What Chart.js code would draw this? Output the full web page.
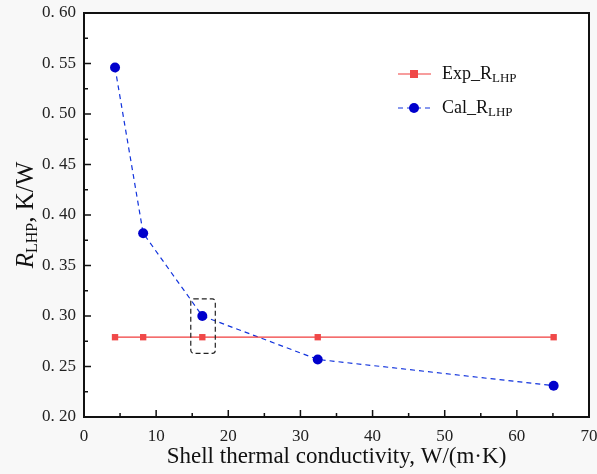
<!DOCTYPE html>
<html>
<head>
<meta charset="utf-8">
<script src="https://cdn.jsdelivr.net/npm/chart.js@4.4.1/dist/chart.umd.min.js"></script>
<style>
  html, body { margin: 0; padding: 0; background: #f8f8f8; }
  #wrap { width: 597px; height: 474px; }
</style>
</head>
<body>
<div id="wrap"><canvas id="rChart" width="597" height="474"></canvas></div>
<script>
// shell thermal conductivity, W/(m·K)
const conductivity = [4.3, 8.2, 16.4, 32.4, 65.1];
const expR = [0.279, 0.279, 0.279, 0.279, 0.279];
const calR = [0.546, 0.382, 0.300, 0.257, 0.231];

// dashed highlight box (data units)
const boxX = [14.8, 18.2];
const boxY = [0.263, 0.317];

const xTicks = [0, 10, 20, 30, 40, 50, 60, 70];
const yTicks = [0.20, 0.25, 0.30, 0.35, 0.40, 0.45, 0.50, 0.55, 0.60];

const serif = "'Liberation Serif', 'DejaVu Serif', serif";

// frame, inward ticks, box, legend, y title
const decor = {
    id: "decor",
    beforeDraw(chart) {
        const { ctx, chartArea: a } = chart;
        ctx.save();
        ctx.fillStyle = "#ffffff";
        ctx.fillRect(a.left, a.top, a.right - a.left, a.bottom - a.top);
        ctx.restore();
    },
    afterDatasetsDraw(chart) {
        const { ctx, chartArea: a, scales } = chart;
        const x = scales.x, y = scales.y;
        ctx.save();

        // dashed box
        ctx.strokeStyle = "#222";
        ctx.lineWidth = 1.2;
        ctx.setLineDash([5, 3]);
        const bx0 = x.getPixelForValue(boxX[0]), bx1 = x.getPixelForValue(boxX[1]);
        const by0 = y.getPixelForValue(boxY[1]), by1 = y.getPixelForValue(boxY[0]);
        ctx.beginPath();
        ctx.roundRect(bx0, by0, bx1 - bx0, by1 - by0, 3);
        ctx.stroke();
        ctx.setLineDash([]);

        // frame
        ctx.strokeStyle = "#111";
        ctx.lineWidth = 2;
        ctx.strokeRect(a.left, a.top, a.right - a.left, a.bottom - a.top);

        // inward ticks
        ctx.lineWidth = 1.5;
        ctx.beginPath();
        for (let v = 0; v <= 70; v += 5) {
            const px = x.getPixelForValue(v);
            const len = v % 10 === 0 ? 7 : 4;
            ctx.moveTo(px, a.bottom);
            ctx.lineTo(px, a.bottom - len);
        }
        for (let i = 0; i <= 16; i++) {
            const v = 0.2 + i * 0.025;
            const py = y.getPixelForValue(v);
            const len = i % 2 === 0 ? 7 : 4;
            ctx.moveTo(a.left, py);
            ctx.lineTo(a.left + len, py);
        }
        ctx.stroke();

        // legend
        const items = [
            { label: "Exp_R", color: "#f03c3c", dash: [], style: "rect", ly: 74 },
            { label: "Cal_R", color: "#1133dd", dash: [5, 4], style: "circle", ly: 108 }
        ];
        items.forEach(it => {
            ctx.strokeStyle = it.color;
            ctx.lineWidth = 1.2;
            ctx.setLineDash(it.dash);
            ctx.beginPath();
            ctx.moveTo(398, it.ly);
            ctx.lineTo(431, it.ly);
            ctx.stroke();
            ctx.setLineDash([]);
            if (it.style === "rect") {
                ctx.fillStyle = "#f04848";
                ctx.fillRect(410, it.ly - 4, 8, 8);
            } else {
                ctx.fillStyle = "#0000cc";
                ctx.beginPath();
                ctx.arc(414, it.ly, 5, 0, Math.PI * 2);
                ctx.fill();
            }
            ctx.fillStyle = "#111";
            ctx.textBaseline = "middle";
            ctx.textAlign = "left";
            ctx.font = "18px " + serif;
            ctx.fillText(it.label, 442, it.ly);
            const w = ctx.measureText(it.label).width;
            ctx.font = "13px " + serif;
            ctx.fillText("LHP", 442 + w, it.ly + 5);
        });

        // y title
        ctx.translate(26, (a.top + a.bottom) / 2);
        ctx.rotate(-Math.PI / 2);
        ctx.fillStyle = "#111";
        ctx.textBaseline = "middle";
        const parts = [
            { t: "R", f: "italic 25px " + serif, dy: 0 },
            { t: "LHP", f: "16px " + serif, dy: 7 },
            { t: ", K/W", f: "25px " + serif, dy: 0 }
        ];
        let total = 0;
        parts.forEach(p => { ctx.font = p.f; p.w = ctx.measureText(p.t).width; total += p.w; });
        let cx = -total / 2;
        ctx.textAlign = "left";
        parts.forEach(p => {
            ctx.font = p.f;
            ctx.fillText(p.t, cx, p.dy);
            cx += p.w;
        });
        ctx.restore();
    }
};

new Chart(document.getElementById("rChart"), {
    type: "line",
    data: {
        datasets: [
            {
                label: "Exp_R_LHP",
                data: conductivity.map((c, i) => ({ x: c, y: expR[i] })),
                borderColor: "#f03c3c",
                borderWidth: 1.2,
                backgroundColor: "#f04848",
                pointStyle: "rect",
                pointRadius: 4.5,
                pointBorderWidth: 0
            },
            {
                label: "Cal_R_LHP",
                data: conductivity.map((c, i) => ({ x: c, y: calR[i] })),
                borderColor: "#1133dd",
                borderWidth: 1.2,
                borderDash: [5, 4],
                backgroundColor: "#0000cc",
                pointStyle: "circle",
                pointRadius: 5,
                pointBorderWidth: 0
            }
        ]
    },
    options: {
        responsive: false,
        animation: false,
        layout: { padding: { left: 0, right: 8, top: 13, bottom: 0 } },
        plugins: {
            legend: { display: false },
            tooltip: { enabled: false }
        },
        scales: {
            x: {
                type: "linear",
                min: 0,
                max: 70,
                afterBuildTicks: s => { s.ticks = xTicks.map(v => ({ value: v })); },
                afterFit: s => { s.height = 57; s.paddingRight = 0; s.paddingLeft = 0; },
                grid: { display: false, drawTicks: false },
                border: { display: false },
                ticks: {
                    padding: 9,
                    color: "#222",
                    font: { family: serif, size: 17 }
                },
                title: {
                    display: true,
                    text: "Shell thermal conductivity, W/(m·K)",
                    color: "#111",
                    font: { family: serif, size: 23 },
                    padding: { top: 0, bottom: 3 }
                }
            },
            y: {
                min: 0.2,
                max: 0.6,
                afterBuildTicks: s => { s.ticks = yTicks.map(v => ({ value: v })); },
                afterFit: s => { s.width = 84; s.paddingTop = 0; s.paddingBottom = 0; },
                grid: { display: false, drawTicks: false },
                border: { display: false },
                ticks: {
                    padding: 8,
                    color: "#222",
                    font: { family: serif, size: 17 },
                    callback: v => v.toFixed(2).replace(".", ". ")
                }
            }
        }
    },
    plugins: [decor]
});
</script>
</body>
</html>
